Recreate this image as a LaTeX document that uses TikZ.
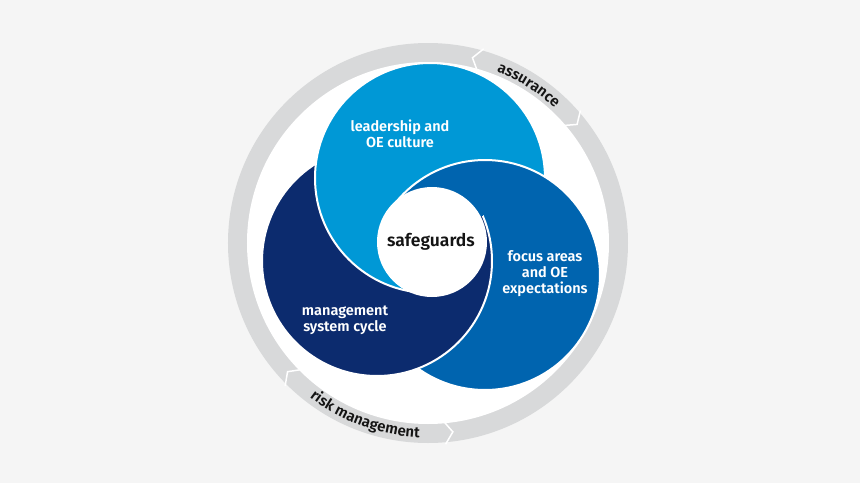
\documentclass[tikz,border=0pt]{standalone}
\usepackage{fontspec}
\setmainfont{Fira Sans}[BoldFont={Fira Sans SemiBold}]
\usetikzlibrary{decorations.text}
\definecolor{bgcol}{RGB}{245,245,245}
\definecolor{ringgray}{RGB}{216,217,218}
\definecolor{lblue}{RGB}{0,152,214}
\definecolor{mblue}{RGB}{0,100,175}
\definecolor{navy}{RGB}{12,43,110}
\definecolor{txtdark}{RGB}{20,20,20}
\newcommand\pwA{\path[fill=lblue, disc] (pA) circle[radius=115];}
\newcommand\pwB{\path[fill=mblue, disc] (pB) circle[radius=115];}
\newcommand\pwC{\path[fill=navy, disc] (pC) circle[radius=115];}
\begin{document}
\begin{tikzpicture}[x=1pt,y=1pt,
  disc/.style={draw=white, line width=2pt},
  lbl/.style={text=white, align=center, font=\bfseries\fontsize{14.5}{16}\selectfont},
  chev/.style={draw=white, line width=1.5pt}]
\useasboundingbox (-428,-240) rectangle (432,243);
\fill[bgcol] (-428,-240) rectangle (432,243);
% ring
\coordinate (O) at (0,0);
\fill[ringgray] (O) circle[radius=200];
\fill[white] (O) circle[radius=181];
% chevron separators
\draw[chev] (74:179) -- (76.5:190.5) -- (74:202);
\draw[chev] (41:179) -- (38.5:190.5) -- (41:202);
\draw[chev] (225:179) -- (222.5:190.5) -- (225:202);
\draw[chev] (275:179) -- (277.5:190.5) -- (275:202);
% ring labels
\path[decorate, decoration={text along path, text align=center, text color=txtdark,
  text={|\bfseries\fontsize{15}{16}\selectfont|assurance}}]
  (75:185) arc[start angle=75, end angle=40, radius=185];
\path[decorate, decoration={text along path, text align=center, text color=txtdark,
  text={|\bfseries\fontsize{15}{16}\selectfont|risk management}}]
  (226:194.5) arc[start angle=226, end angle=274, radius=194.5];
% pinwheel
\coordinate (pA) at (2,65);
\coordinate (pB) at (57,-32);
\coordinate (pC) at (-51,-18);
\coordinate (pW) at (4,1);
\begin{scope}
  \clip (pW) -- +(143:700) -- +(207.5:700) -- +(272:700) -- cycle;
  \begin{scope}[transparency group]
    \pwB \pwC \pwA
  \end{scope}
\end{scope}
\begin{scope}
  \clip (pW) -- +(268:700) -- +(330:700) -- +(392:700) -- cycle;
  \begin{scope}[transparency group]
    \pwA \pwB \pwC
  \end{scope}
\end{scope}
\begin{scope}
  \clip (pW) -- +(28:700) -- +(87.5:700) -- +(147:700) -- cycle;
  \begin{scope}[transparency group]
    \pwC \pwA \pwB
  \end{scope}
\end{scope}
\fill[white] (pW) circle[radius=55];
% labels
\node[text=txtdark, font=\bfseries\fontsize{17.5}{20}\selectfont] (safe) at (3,1) {safeguards};
\node[lbl] (lead) at (-28,109) {leadership and\\OE culture};
\node[lbl] (focus) at (117,-31) {focus areas\\and OE\\expectations};
\node[lbl] (mgmt) at (-83,-77) {management\\system cycle};
\end{tikzpicture}
\end{document}
